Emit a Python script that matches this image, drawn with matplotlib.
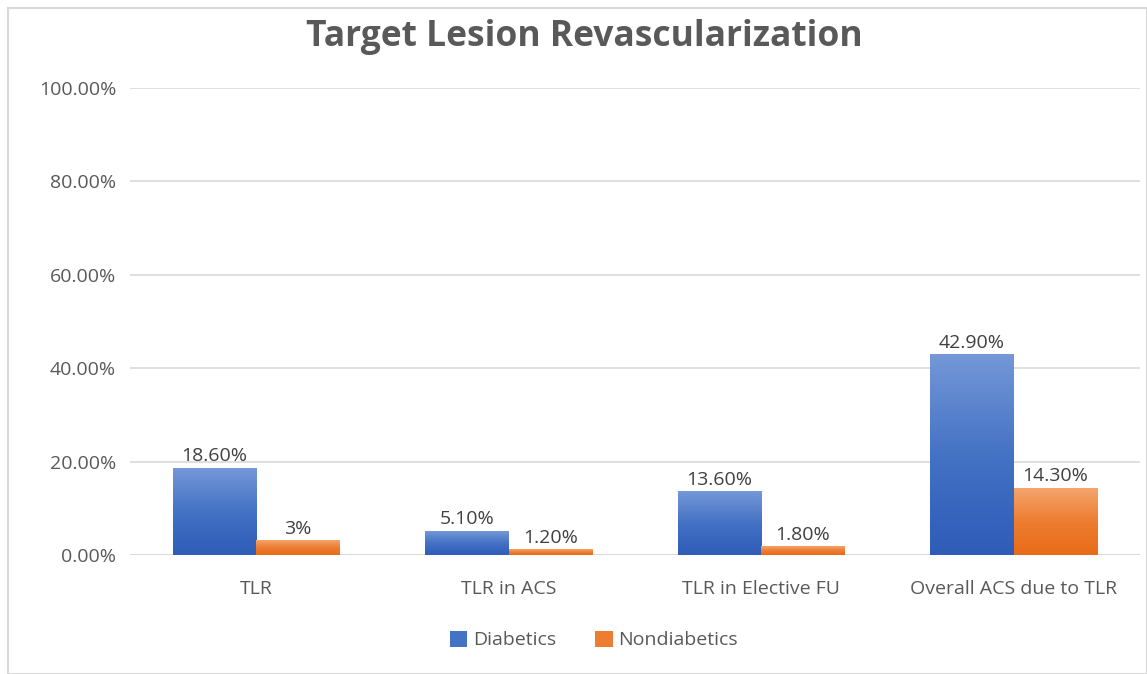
import matplotlib.pyplot as plt
import numpy as np
from matplotlib.colors import LinearSegmentedColormap
from matplotlib.patches import Rectangle

categories = ['TLR', 'TLR in ACS', 'TLR in Elective FU', 'Overall ACS due to TLR']
diabetics = [18.6, 5.1, 13.6, 42.9]
nondiabetics = [3.0, 1.2, 1.8, 14.3]
diabetics_labels = ['18.60%', '5.10%', '13.60%', '42.90%']
nondiabetics_labels = ['3%', '1.20%', '1.80%', '14.30%']
series_names = ['Diabetics', 'Nondiabetics']

plt.rcParams['font.family'] = ['Open Sans', 'DejaVu Sans']
text_color = '#595959'
fs = 14

fig = plt.figure(figsize=(11.47, 6.74), dpi=100)
ax = fig.add_axes([130 / 1147, 1 - 555 / 674, 1010 / 1147, 467 / 674])

blue_cmap = LinearSegmentedColormap.from_list('b', ['#2e5cb8', '#4472c4', '#7498d8'])
orange_cmap = LinearSegmentedColormap.from_list('o', ['#e86b17', '#ed7d31', '#f4a46c'])
grad = np.linspace(0, 1, 256).reshape(-1, 1)

bar_width = 0.33
index = np.arange(len(categories))


def gradient_bars(xs, heights, cmap, labels):
    for x, h, lab in zip(xs, heights, labels):
        x0 = x - bar_width / 2
        ax.imshow(grad, cmap=cmap, aspect='auto', origin='lower',
                  extent=(x0, x0 + bar_width, 0, h), zorder=3)
        ax.text(x, h + 0.6, lab, ha='center', va='bottom', fontsize=fs,
                color='#404040', zorder=5)


gradient_bars(index - bar_width / 2, diabetics, blue_cmap, diabetics_labels)
gradient_bars(index + bar_width / 2, nondiabetics, orange_cmap, nondiabetics_labels)

ax.set_xlim(-0.5, len(categories) - 0.5)
ax.set_ylim(0, 100)
ax.set_yticks(np.arange(0, 101, 20))
ax.set_yticklabels([f'{v:.2f}%' for v in np.arange(0, 101, 20)],
                   fontsize=fs, color=text_color)
ax.set_xticks(index)
ax.set_xticklabels(categories, fontsize=fs, color=text_color)
ax.tick_params(axis='x', length=0, pad=18)
ax.tick_params(axis='y', length=0, pad=10)
for s in ax.spines.values():
    s.set_visible(False)
ax.grid(axis='y', color='#d9d9d9', linewidth=1.2, zorder=0)
ax.axhline(0, color='#d9d9d9', linewidth=1.2, zorder=1)
ax.set_axisbelow(True)

fig.text(584 / 1147, 1 - 37 / 674, 'Target Lesion Revascularization', ha='center',
         va='center', fontsize=25.5, fontweight='bold', color=text_color)

handles = [Rectangle((0, 0), 1, 1, facecolor='#4472c4'),
           Rectangle((0, 0), 1, 1, facecolor='#ed7d31')]
fig.legend(handles, series_names, loc='center', bbox_to_anchor=(594 / 1147, 1 - 640 / 674),
           ncol=2, frameon=False, fontsize=fs, labelcolor=text_color,
           handlelength=0.9, handleheight=0.9, handletextpad=0.3, columnspacing=2.0)

fig.patches.append(Rectangle((8 / 1147, 0), 1 - 8 / 1147, 1 - 8 / 674,
                             transform=fig.transFigure, fill=False,
                             edgecolor='#d9d9d9', linewidth=1.5))

plt.savefig('out.png', dpi=100)
